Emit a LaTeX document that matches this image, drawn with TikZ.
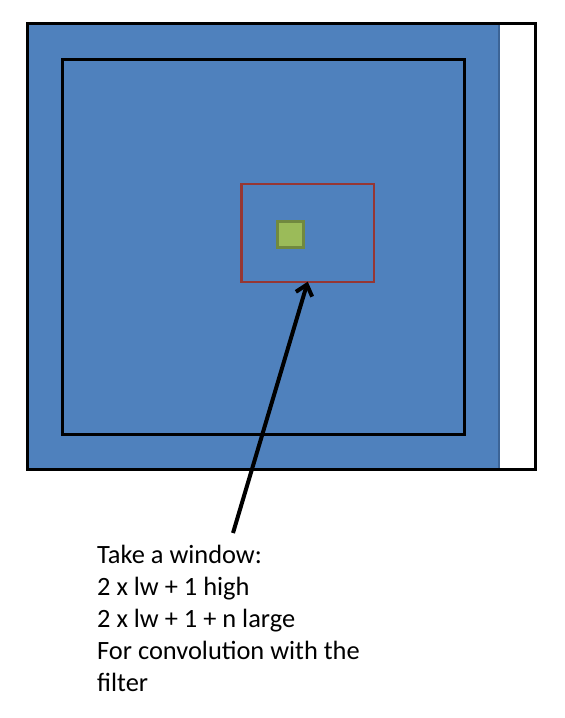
\documentclass[tikz,border=0pt]{standalone}
\usepackage{fontspec}
\setmainfont{Carlito}
\usetikzlibrary{arrows.meta}
\definecolor{ablue}{RGB}{79,129,189}
\definecolor{ablueborder}{RGB}{60,100,150}
\definecolor{wred}{RGB}{150,55,52}
\definecolor{fgreen}{RGB}{155,187,89}
\definecolor{fgreenborder}{RGB}{113,137,63}
\begin{document}
\begin{tikzpicture}[x=1pt,y=-1pt,
  box/.style={draw=black,line width=3pt,fill=none,inner sep=0pt,outer sep=0pt},
  lbl/.style={font=\fontsize{26.4}{32}\selectfont,align=left,inner sep=0pt,anchor=base west}]
\useasboundingbox (0,0) rectangle (565,718);
\fill[white] (0,0) rectangle (565,718);
% blue area
\node[inner sep=0pt,outer sep=0pt,fill=ablue,draw=ablueborder,line width=2pt,
      minimum width=472pt,minimum height=446.2pt] (blue) at (263,246.6) {};
% outer frame
\node[box,minimum width=508.3pt,minimum height=446.2pt] (outer) at (281.2,246.6) {};
% inner frame
\node[box,minimum width=402.4pt,minimum height=374.5pt] (inner) at (263.5,246.75) {};
% red window
\node[draw=wred,line width=2.2pt,inner sep=0pt,outer sep=0pt,
      minimum width=132.5pt,minimum height=97.4pt] (win) at (307.75,233) {};
% green pixel
\node[draw=fgreenborder,fill=fgreen,line width=3pt,inner sep=0pt,outer sep=0pt,
      minimum width=26.6pt,minimum height=26pt] (pix) at (290.3,234) {};
% arrow
\coordinate (tail) at (233,533);
\draw[line width=4pt,-{Straight Barb[length=10pt,width=17pt,line width=4pt]}] (tail) -- (win.south);
% label
\node[lbl] (txt) at (97,691.7) {Take a window:\\2 x lw + 1 high\\2 x lw + 1 + n large\\For convolution with the\\filter};
\end{tikzpicture}
\end{document}
